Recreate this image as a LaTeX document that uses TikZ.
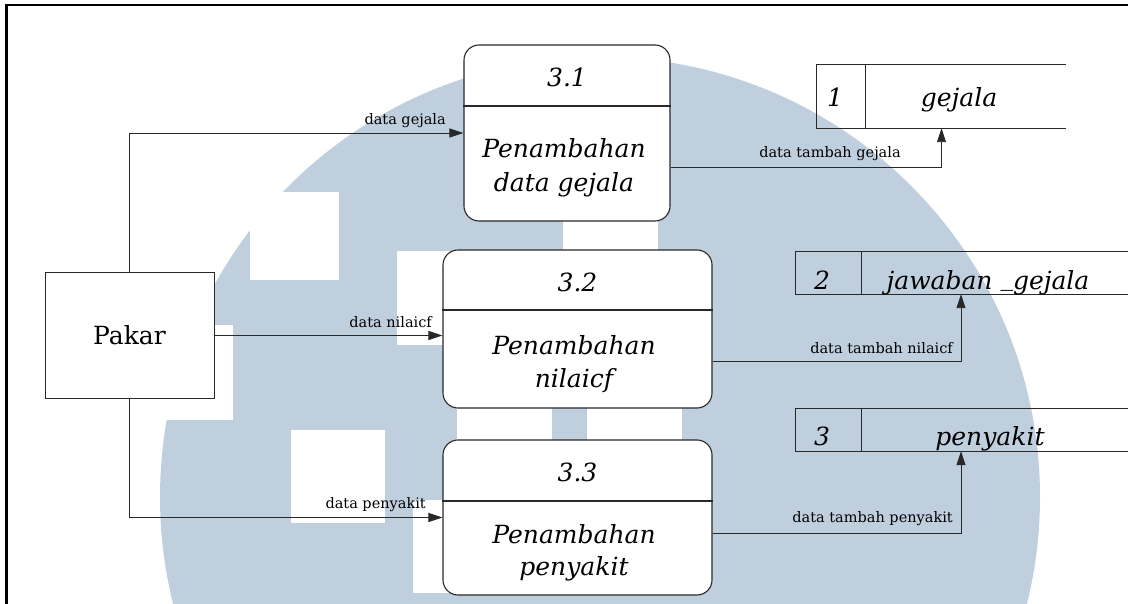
\documentclass[tikz,border=0pt]{standalone}
\usepackage{fontspec}
\setmainfont{DejaVu Serif}
\usetikzlibrary{arrows.meta}
\definecolor{wm}{RGB}{191,207,222}
\definecolor{ln}{RGB}{40,40,40}
\begin{document}
\begin{tikzpicture}[x=1pt,y=-1pt,
  procbox/.style={draw=ln, fill=white, rounded corners=15pt, line width=1.1pt, inner sep=0pt},
  extbox/.style={draw=ln, fill=white, line width=1pt, inner sep=0pt},
  storebox/.style={inner sep=0pt},
  storeline/.style={draw=ln, line width=1pt},
  flow/.style={draw=ln, line width=0.9pt, -{Triangle[length=14pt,width=9pt]}},
  lbl/.style={font=\fontsize{14.5}{16}\selectfont, text=black, inner sep=0pt},
  big/.style={font=\fontsize{25}{30}\selectfont\itshape, text=black, inner sep=0pt},
  bigup/.style={font=\fontsize{25}{30}\selectfont, text=black, inner sep=0pt}]
\useasboundingbox (0,0) rectangle (1128,604);

% watermark: disc with white square cut-outs
\begin{scope}
  \clip (0,0) rectangle (1128,604);
  \fill[wm] (600,497) circle (440pt);
  \fill[white] (250,192) rectangle (339,280);
  \fill[white] (397,251) rectangle (450,345);
  \fill[white] (563,215) rectangle (658,255);
  \fill[white] (457,400) rectangle (552,445);
  \fill[white] (587,400) rectangle (682,445);
  \fill[white] (150,325) rectangle (233,420);
  \fill[white] (291,430) rectangle (385,523);
  \fill[white] (413,500) rectangle (450,593);
\end{scope}

% frame
\draw[line width=2.2pt] (6.5,610) -- (6.5,5) -- (1140,5);

% external entity
\node[extbox, minimum width=169pt, minimum height=125pt] (pakar) at (129.5,335.5) {};
\node[bigup] (pakart) at (pakar) {Pakar};

% processes
\node[procbox, minimum width=206pt, minimum height=176pt] (p1) at (567,133) {};
\node[procbox, minimum width=269pt, minimum height=158pt] (p2) at (577.5,329) {};
\node[procbox, minimum width=269pt, minimum height=155pt] (p3) at (577.5,517.5) {};
\draw[ln, line width=1.1pt] (p1.west |- 0,106) -- (p1.east |- 0,106);
\draw[ln, line width=1.1pt] (p2.west |- 0,310) -- (p2.east |- 0,310);
\draw[ln, line width=1.1pt] (p3.west |- 0,501) -- (p3.east |- 0,501);

\node[big, anchor=base] (p1id) at (567,87) {3.1};
\node[big, anchor=base] (p1a) at (564,158) {Penambahan};
\node[big, anchor=base] (p1b) at (564,192) {data gejala};
\node[big, anchor=base] (p2id) at (577.5,292) {3.2};
\node[big, anchor=base] (p2a) at (574,355) {Penambahan};
\node[big, anchor=base] (p2b) at (574,387) {nilaicf};
\node[big, anchor=base] (p3id) at (577.5,481) {3.3};
\node[big, anchor=base] (p3a) at (574,543) {Penambahan};
\node[big, anchor=base] (p3b) at (574,575) {penyakit};

% data stores (open on the right)
\node[storebox, minimum width=249pt, minimum height=63pt] (s1) at (941.5,96.5) {};
\node[storebox, minimum width=344pt, minimum height=42pt] (s2) at (968,273) {};
\node[storebox, minimum width=344pt, minimum height=42pt] (s3) at (968,430) {};
\draw[storeline] (s1.north east) -- (s1.north west) -- (s1.south west) -- (s1.south east);
\draw[storeline] ([xshift=49pt]s1.north west) -- ([xshift=49pt]s1.south west);
\draw[storeline] (s2.north east) -- (s2.north west) -- (s2.south west) -- (s2.south east);
\draw[storeline] ([xshift=66pt]s2.north west) -- ([xshift=66pt]s2.south west);
\draw[storeline] (s3.north east) -- (s3.north west) -- (s3.south west) -- (s3.south east);
\draw[storeline] ([xshift=66pt]s3.north west) -- ([xshift=66pt]s3.south west);

\node[big, anchor=base] (s1id) at (835,107) {1};
\node[big, anchor=base] (s1n) at (959,107) {gejala};
\node[big, anchor=base] (s2id) at (822,290) {2};
\node[big, anchor=base] (s2n) at (988,290) {jawaban \raisebox{4.5pt}{\_}gejala};
\node[big, anchor=base] (s3id) at (822,445) {3};
\node[big, anchor=base] (s3n) at (990,445) {penyakit};

% data flows
\draw[flow] (pakar.north) |- (p1.west);
\draw[flow] (pakar.east) -- (pakar.east -| p2.west);
\draw[flow] (pakar.south) |- (p3.west);
\draw[flow] ([yshift=-34pt]p1.east) -| (s1.south);
\draw[flow] ([yshift=-32pt]p2.east) -| ([xshift=-7pt]s2.south);
\draw[flow] ([yshift=-15.5pt]p3.east) -| ([xshift=-7pt]s3.south);

% flow labels
\node[lbl, anchor=base east] (l1) at (446,125) {data gejala};
\node[lbl, anchor=base east] (l2) at (432,327) {data nilaicf};
\node[lbl, anchor=base east] (l3) at (426,508) {data penyakit};
\node[lbl, anchor=base] (l4) at (830,158) {data tambah gejala};
\node[lbl, anchor=base east] (l5) at (953,353) {data tambah nilaicf};
\node[lbl, anchor=base east] (l6) at (953,522) {data tambah penyakit};
\end{tikzpicture}
\end{document}
